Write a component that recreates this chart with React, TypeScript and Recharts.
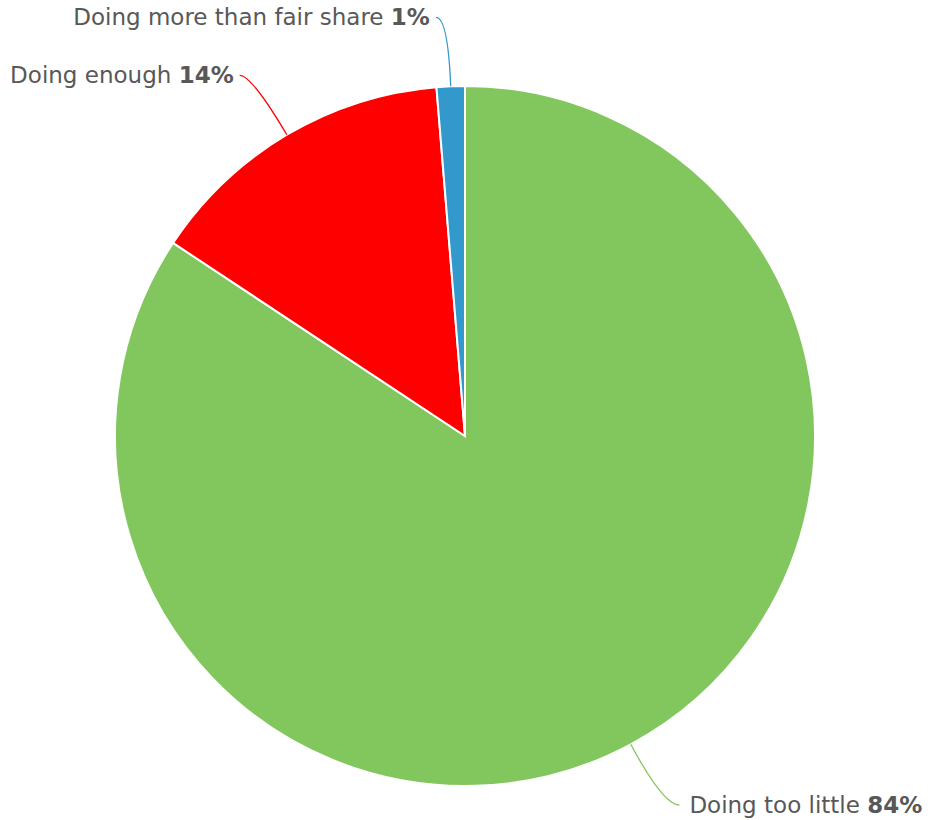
import React from 'react';
import { PieChart, Pie, Cell } from 'recharts';

const names = ['Doing too little', 'Doing enough', 'Doing more than fair share'];
const shares = [84.3, 14.4, 1.3];
const colors = ['#82c65e', '#ff0000', '#3399cc'];

const data = names.map((name, i) => ({ name, value: shares[i] }));

const RADIAN = Math.PI / 180;

const renderLabel = (props: any) => {
  const { cx, cy, midAngle, outerRadius, index, value } = props;
  const cos = Math.cos(-midAngle * RADIAN);
  const sin = Math.sin(-midAngle * RADIAN);
  // start on the slice edge, bend at an elbow further out, then run flat to the text
  const sx = cx + outerRadius * cos;
  const sy = cy + outerRadius * sin;
  const ex = cx + (outerRadius + 69) * cos;
  const ey = cy + (outerRadius + 69) * sin;
  const right = cos >= 0;
  const tx = ex + (right ? 16 : -12);
  const ty = ey;
  return (
    <g key={`label-${index}`}>
      <path
        d={`M${sx},${sy} Q${ex},${ey} ${tx},${ty}`}
        stroke={colors[index]}
        strokeWidth={1.3}
        fill="none"
      />
      <text
        x={tx + (right ? 10 : -6)}
        y={ty}
        textAnchor={right ? 'start' : 'end'}
        dominantBaseline="central"
        fill="#585858"
        fontSize={23}
        fontFamily="'DejaVu Sans', Verdana, sans-serif"
      >
        <tspan>{names[index]} </tspan>
        <tspan fontWeight="bold">{Math.round(value)}%</tspan>
      </text>
    </g>
  );
};

export default function App() {
  return (
    <div style={{ position: 'absolute', left: 0, top: 0, width: 930, height: 820, background: '#ffffff' }}>
      <PieChart width={930} height={820} margin={{ top: 0, right: 0, bottom: 0, left: 0 }}>
        <Pie
          data={data}
          dataKey="value"
          nameKey="name"
          cx={465}
          cy={436}
          outerRadius={350}
          startAngle={90}
          endAngle={-270}
          stroke="#ffffff"
          strokeWidth={2}
          label={renderLabel}
          labelLine={false}
          isAnimationActive={false}
        >
          {data.map((entry, i) => (
            <Cell key={`cell-${i}`} fill={colors[i]} />
          ))}
        </Pie>
      </PieChart>
    </div>
  );
}
